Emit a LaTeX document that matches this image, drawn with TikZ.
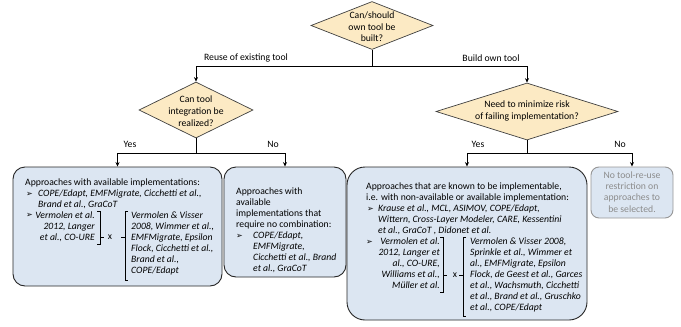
\documentclass[tikz,border=0pt]{standalone}
\usepackage{fontspec}
\setmainfont{Carlito}
\newfontfamily\dejavu{DejaVu Sans}
\usepackage{tikz}
\usetikzlibrary{arrows.meta,shapes.geometric}
\usepackage{xcolor}
\definecolor{boxblue}{RGB}{220,230,242}
\definecolor{diatan}{RGB}{252,234,196}
\definecolor{greytext}{RGB}{140,140,140}
\definecolor{greyline}{RGB}{150,150,150}
\newcommand\boxfont{\fontsize{9.7}{11}\selectfont}
\newcommand\bulfont{\dejavu\fontsize{8}{8}\selectfont}

\tikzset{
	dia/.style={diamond,draw=black!75,fill=diatan,line width=0.7pt,inner sep=0},
	box/.style={rectangle,draw=black!85,fill=boxblue,line width=0.9pt,rounded corners=12pt,inner sep=0},
	txt/.style={anchor=north west,inner sep=0,align=left,font=\boxfont},
	itxt/.style={txt,font=\boxfont\itshape},
	rtxt/.style={anchor=north east,inner sep=0,align=right,font=\boxfont\itshape},
	lbl/.style={inner sep=0,font=\boxfont},
	bul/.style={anchor=west,inner sep=0,font=\bulfont},
	arr/.style={-{Stealth[length=4.5pt,width=4pt]},line width=0.9pt},
	brk/.style={line width=0.8pt}
}

\begin{document}
\begin{tikzpicture}[x=1pt,y=-1pt]
	\useasboundingbox (0,0) rectangle (681,327);
	\node(d1) at (372,25.5)[dia,minimum width=122,minimum height=48]{};
	\node(q1) at (372,27)[lbl,align=center,font=\fontsize{9.7}{11.5}\selectfont]{Can/should\\own tool be\\built?};
	\node(d2) at (196,110)[dia,minimum width=114,minimum height=56]{};
	\node(q2) at (196,111)[lbl,align=center,font=\fontsize{9.7}{11.8}\selectfont]{Can tool\\integration be\\realized?};
	\node(d3) at (527,111.5)[dia,minimum width=182,minimum height=57]{};
	\node(q3) at (527,111)[lbl,align=center,font=\fontsize{9.7}{12}\selectfont]{Need to minimize risk\\of failing implementation?};

	\coordinate(j1) at (372,66);
	\draw[arr] (d1.south) -- (j1) -| (d2.north);
	\draw[arr] (j1) -| (d3.north);
	\node(l1) at (246,58)[lbl]{Reuse of existing tool};
	\node(l2) at (491,58)[lbl]{Build own tool};

	\node(b1) at (117.5,226.5)[box,minimum width=209,minimum height=119]{};
	\node(b2) at (285,222)[box,minimum width=122,minimum height=110]{};
	\node(b3) at (467,243.5)[box,rounded corners=18pt,minimum width=240,minimum height=153]{};
	\node(b4) at (632,192.5)[box,draw=greyline,rounded corners=8pt,minimum width=82,minimum height=51]{};

	\coordinate(j2) at (196,153);
	\draw[arr] (d2.south) -- (j2) -| (b1.north);
	\draw[arr] (j2) -| (b2.north);
	\coordinate(j3) at (527,153);
	\draw[arr] (d3.south) -- (j3) -| (b3.north);
	\draw[arr] (j3) -| (b4.north);
	\node(l3) at (130,144)[lbl]{Yes};
	\node(l4) at (273,144)[lbl]{No};
	\node(l5) at (478,144)[lbl]{Yes};
	\node(l6) at (620,144)[lbl]{No};

	\node(t11) at (25,177.6)[txt]{\strut Approaches with available implementations:};
	\node(u11) at (26,194)[bul]{➢};
	\node(t12) at (38,188.5)[itxt]{\strut COPE/Edapt, EMFMigrate, Cicchetti et al.,\\Brand et al., GraCoT};
	\node(u12) at (26,215.7)[bul]{➢};
	\node(t13) at (95,210.3)[rtxt]{\strut Vermolen et al.\\2012, Langer\\et al., CO-URE};
	\node(x1) at (110,237.5)[lbl]{x};
	\node(t14) at (131,210.3)[itxt]{\strut Vermolen \& Visser\\2008, Wimmer et al.,\\EMFMigrate, Epsilon\\Flock, Cicchetti et al.,\\Brand et al.,\\COPE/Edapt};
	\draw[brk] (97,211)--(100,211)--(100,244)--(97,244) (100,237.5)--(104,237.5);
	\draw[brk] (128,211)--(125,211)--(125,280)--(128,280) (125,237.5)--(121,237.5);

	\node(t21) at (236,186.6)[txt]{\strut Approaches with\\available\\implementations that\\require no combination:};
	\node(u21) at (236,236.4)[bul]{➢};
	\node(t22) at (253,231)[itxt]{\strut COPE/Edapt,\\EMFMigrate,\\Cicchetti et al., Brand\\et al., GraCoT};

	\node(t31) at (366,181.6)[txt]{\strut Approaches that are known to be implementable,\\i.e. with non-available or available implementation:};
	\node(u31) at (367,209)[bul]{➢};
	\node(t32) at (378,203.6)[itxt]{\strut Krause et al., MCL, ASIMOV, COPE/Edapt,\\Wittern, Cross-Layer Modeler, CARE, Kessentini\\et al., GraCoT , Didonet et al.};
	\node(u32) at (366,242)[bul]{➢};
	\node(t33) at (440,236.6)[rtxt]{\strut Vermolen et al.\\2012, Langer et\\al., CO-URE,\\Williams et al.,\\Müller et al.};
	\node(x3) at (455,275)[lbl]{x};
	\node(t34) at (470,236.6)[itxt]{\strut Vermolen \& Visser 2008,\\Sprinkle et al., Wimmer et\\al., EMFMigrate, Epsilon\\Flock, de Geest et al., Garces\\et al., Wachsmuth, Cicchetti\\et al., Brand et al., Gruschko\\et al., COPE/Edapt};
	\draw[brk] (440,237.5)--(443,237.5)--(443,292)--(440,292) (443,275)--(447,275);
	\draw[brk] (466,237.5)--(463,237.5)--(463,316)--(466,316) (463,275)--(459,275);

	\node(t41) at (632,192)[lbl,align=center,text=greytext,font=\fontsize{9.7}{11.3}\selectfont]{No tool-re-use\\restriction on\\approaches to\\be selected.};
\end{tikzpicture}
\end{document}
